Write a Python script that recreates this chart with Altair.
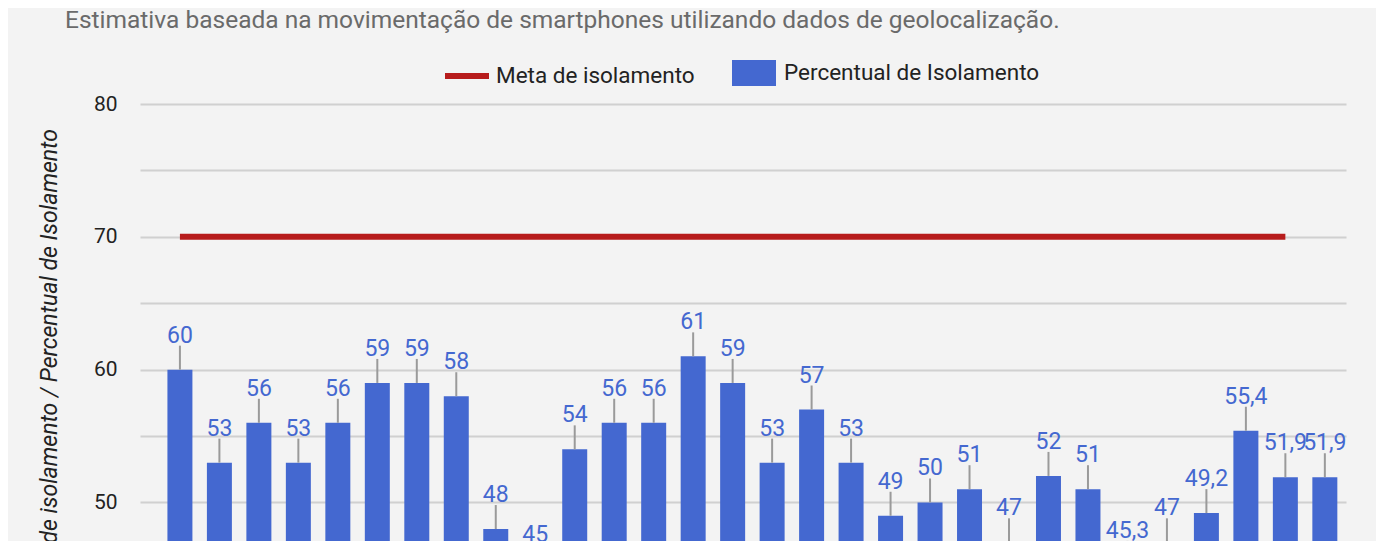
import altair as alt
import pandas as pd

# ---- data ----
dias = [f"{i:02d}" for i in range(1, 31)]
percentual = [60, 53, 56, 53, 56, 59, 59, 58, 48, 45,
              54, 56, 56, 61, 59, 53, 57, 53, 49, 50,
              51, 47, 52, 51, 45.3, 47, 49.2, 55.4, 51.9, 51.9]
meta = [70, 70, 70, 70, 70, 70, 70, 70, 70, 70,
        70, 70, 70, 70, 70, 70, 70, 70, 70, 70,
        70, 70, 70, 70, 70, 70, 70, 70, 70, None]

SERIE_META = "Meta de isolamento"
SERIE_PCT = "Percentual de Isolamento"
SUBTITULO = "Estimativa baseada na movimentação de smartphones utilizando dados de geolocalização."


def fmt(v):
    s = f"{v:g}"
    return s.replace(".", ",")


df = pd.DataFrame({
    "dia": dias,
    "pct": percentual,
    "meta": meta,
    "rotulo": [fmt(v) for v in percentual],
    "s_pct": SERIE_PCT,
    "s_meta": SERIE_META,
})

BLUE = "#4468d0"
RED = "#b71c1c"
FONT = "Roboto"

x = alt.X("dia:N", sort=None, axis=None,
          scale=alt.Scale(paddingInner=0.367, paddingOuter=0.457, align=0.76))

yscale = alt.Scale(domain=[47.1, 80], zero=False, nice=False)

yaxis = alt.Axis(
    values=[50, 55, 60, 65, 70, 75, 80],
    labelExpr="datum.value % 10 === 0 ? datum.label : ''",
    grid=True, gridColor="#d0d0d0", gridWidth=2,
    domain=False, ticks=False,
    labelFont=FONT, labelFontSize=21, labelColor="#222222", labelPadding=23,
    labelBaseline="middle",
    title="Meta de isolamento / Percentual de Isolamento",
    titleFont=FONT, titleFontSize=23, titleFontStyle="italic",
    titleFontWeight="normal", titleColor="#222222",
    titleX=-91, titleY=260, titleBaseline="middle", titleAlign="center",
    titleAngle=270,
)

base = alt.Chart(df)

bars = base.mark_bar().encode(
    x=x,
    y=alt.Y("pct:Q", scale=yscale, axis=yaxis),
    fill=alt.Fill("s_pct:N", scale=alt.Scale(range=[BLUE]),
                  legend=alt.Legend(orient="none", legendX=592, legendY=-53,
                                    title=None, padding=0, labelLimit=0,
                                    symbolType="M-1,-0.59H1V0.59H-1Z",
                                    symbolSize=1936, symbolStrokeWidth=0,
                                    labelFont=FONT, labelFontSize=22.5,
                                    labelColor="#222222", labelOffset=8)),
)

stems = base.mark_rule(color="#9a9a9a", strokeWidth=2, y2Offset=-24).encode(
    x=x,
    y=alt.Y("pct:Q", scale=yscale),
    y2=alt.Y2("pct:Q"),
)

labels = base.mark_text(
    font=FONT, fontSize=23, color=BLUE, baseline="alphabetic", align="center", dy=-27
).encode(
    x=x,
    y=alt.Y("pct:Q", scale=yscale),
    text="rotulo:N",
)

line = base.mark_line(strokeWidth=6, strokeCap="butt").encode(
    x=x,
    y=alt.Y("meta:Q", scale=yscale),
    stroke=alt.Stroke("s_meta:N", scale=alt.Scale(range=[RED]),
                      legend=alt.Legend(orient="none", legendX=302, legendY=-53,
                                        title=None, padding=0, labelLimit=0,
                                        symbolType="stroke", symbolSize=1936,
                                        symbolStrokeWidth=6,
                                        labelFont=FONT, labelFontSize=22.5,
                                        labelColor="#222222", labelOffset=4)),
)

chart = alt.layer(bars, stems, labels, line).resolve_scale(
    fill="independent", stroke="independent"
).properties(
    width=1206,
    height=437,
    autosize=alt.AutoSizeParams(type="none"),
    padding={"left": 132, "top": 96, "right": 30, "bottom": 0},
    title=alt.TitleParams(
        text=SUBTITULO, anchor="start", frame="group", dx=-75, dy=1,
        font=FONT, fontSize=24.5, fontWeight="normal", color="#6a6a6a",
        orient="top", baseline="alphabetic", offset=0,
    ),
).configure(
    background="#f3f3f3",
).configure_view(
    strokeWidth=0,
)

chart.save("out.html", embed_options={"renderer": "svg", "actions": False})
